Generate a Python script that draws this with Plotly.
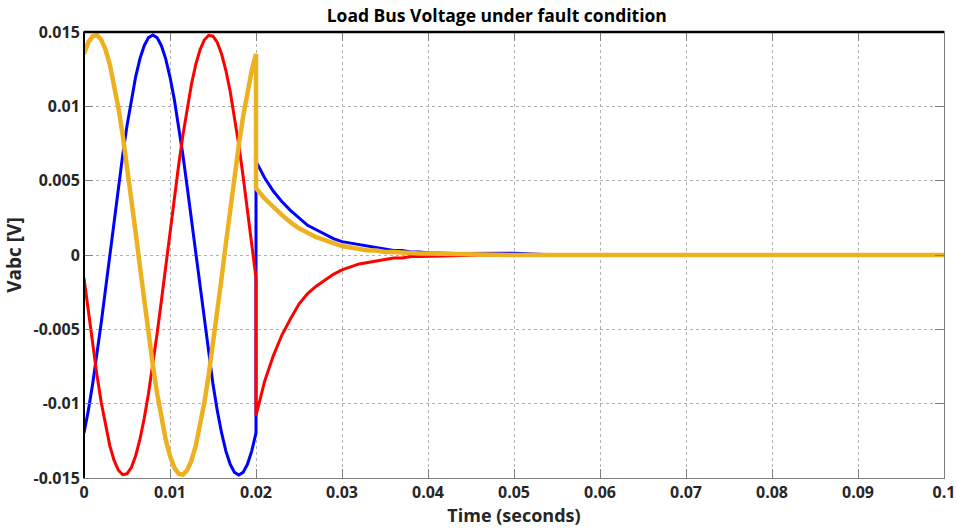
import plotly.graph_objects as go

# ---------------- data ----------------
# pre-fault sampling grid 0 .. 0.02 s (0.5 ms steps)
t_pre = [round(i * 0.0005, 4) for i in range(41)]
# post-fault sampling grid
t_post = [0.020, 0.021, 0.022, 0.023, 0.024, 0.025, 0.026, 0.027, 0.028, 0.029,
          0.030, 0.031, 0.032, 0.033, 0.034, 0.035, 0.036, 0.037, 0.038, 0.039,
          0.040, 0.043, 0.046, 0.050, 0.055, 0.100]

va_pre = [-0.01197, -0.01047, -0.00870, -0.00672, -0.00457, -0.00231, 0.0, 0.00231,
          0.00457, 0.00672, 0.00870, 0.01047, 0.01197, 0.01319, 0.01408, 0.01462,
          0.0148, 0.01462, 0.01408, 0.01319, 0.01197, 0.01047, 0.00870, 0.00672,
          0.00457, 0.00231, 0.0, -0.00231, -0.00457, -0.00672, -0.00870, -0.01047,
          -0.01197, -0.01319, -0.01408, -0.01462, -0.0148, -0.01462, -0.01408,
          -0.01319, -0.01197]
va_post = [0.0063, 0.0052, 0.0043, 0.0036, 0.0030, 0.0025, 0.0020, 0.0017, 0.0014,
           0.0011, 0.0009, 0.0008, 0.0007, 0.0006, 0.0005, 0.0004, 0.0003, 0.0003,
           0.0002, 0.0002, 0.00015, 0.0001, 0.0001, 0.00012, 0.0, 0.0]

vb_pre = [-0.00155, -0.00383, -0.00602, -0.00806, -0.00990, -0.01150, -0.01282,
          -0.01382, -0.01448, -0.01478, -0.01472, -0.01430, -0.01352, -0.01241,
          -0.01100, -0.00931, -0.00740, -0.00530, -0.00308, -0.00077, 0.00155,
          0.00383, 0.00602, 0.00806, 0.00990, 0.01150, 0.01282, 0.01382, 0.01448,
          0.01478, 0.01472, 0.01430, 0.01352, 0.01241, 0.01100, 0.00931, 0.00740,
          0.00530, 0.00308, 0.00077, -0.00155]
vb_post = [-0.0108, -0.0085, -0.0068, -0.0054, -0.0043, -0.0033, -0.0026, -0.0021,
           -0.0017, -0.0013, -0.0010, -0.0008, -0.0006, -0.0005, -0.0004, -0.0003,
           -0.0002, -0.0002, -0.0001, -0.0001, -0.0001, -0.00005, 0.0, 0.0, 0.0, 0.0]

vc_pre = [0.01352, 0.01430, 0.01472, 0.01478, 0.01448, 0.01382, 0.01282, 0.01150,
          0.00990, 0.00806, 0.00602, 0.00383, 0.00155, -0.00077, -0.00308, -0.00530,
          -0.00740, -0.00931, -0.01100, -0.01241, -0.01352, -0.01430, -0.01472,
          -0.01478, -0.01448, -0.01382, -0.01282, -0.01150, -0.00990, -0.00806,
          -0.00602, -0.00383, -0.00155, 0.00077, 0.00308, 0.00530, 0.00740, 0.00931,
          0.01100, 0.01241, 0.01352]
vc_post = [0.0045, 0.0038, 0.0032, 0.0027, 0.0022, 0.0018, 0.0015, 0.0012, 0.0010,
           0.0008, 0.0006, 0.0005, 0.0004, 0.0003, 0.0003, 0.0002, 0.0002, 0.00015,
           0.0001, 0.0001, 0.0001, 0.00005, 0.0, 0.0, 0.0, 0.0]

x_ticks = [0, 0.01, 0.02, 0.03, 0.04, 0.05, 0.06, 0.07, 0.08, 0.09, 0.1]
x_labels = ["0", "0.01", "0.02", "0.03", "0.04", "0.05", "0.06", "0.07", "0.08", "0.09", "0.1"]
y_ticks = [-0.015, -0.01, -0.005, 0, 0.005, 0.01, 0.015]
y_labels = ["-0.015", "-0.01", "-0.005", "0", "0.005", "0.01", "0.015"]

# ---------------- figure ----------------
FONT = "Open Sans"
TXT = "#262626"

fig = go.Figure()
series = [
    ("Va", va_pre, va_post, "#0000FF", 3),
    ("Vb", vb_pre, vb_post, "#FF0000", 3),
    ("Vc", vc_pre, vc_post, "#EDB120", 4.5),
]
for name, pre, post, color, w in series:
    fig.add_trace(go.Scatter(
        x=t_pre + t_post, y=pre + post, mode="lines", name=name,
        line=dict(color=color, width=w), showlegend=False,
    ))

axis_common = dict(
    ticks="inside", ticklen=9, tickcolor="#7f7f7f", tickwidth=1,
    showline=True, linecolor="#7f7f7f", linewidth=1, mirror="ticks",
    showgrid=True, gridcolor="#b0b0b0", griddash="dot", gridwidth=1,
    zeroline=False, automargin=False,
    tickfont=dict(family=FONT, size=16, color=TXT, weight="bold"),
)

fig.update_layout(
    width=957, height=531,
    margin=dict(l=84, r=13, t=32, b=53),
    paper_bgcolor="white", plot_bgcolor="white",
    title=dict(text="Load Bus Voltage under fault condition",
               font=dict(family=FONT, size=17.5, color="black", weight="bold"),
               x=0.48, xref="paper", xanchor="center",
               y=1 - 16 / 531, yref="container", yanchor="middle"),
    xaxis=dict(range=[0, 0.1], tickvals=x_ticks, ticktext=x_labels,
               title=dict(text="Time (seconds)", standoff=2,
                          font=dict(family=FONT, size=18, color=TXT, weight="bold")),
               **axis_common),
    yaxis=dict(range=[-0.015, 0.015], tickvals=y_ticks, ticktext=y_labels,
               title=dict(text="Vabc [V]", standoff=6,
                          font=dict(family=FONT, size=19, color=TXT, weight="bold")),
               **axis_common),
    shapes=[
        dict(type="line", xref="paper", yref="paper", x0=0, x1=1, y0=1, y1=1,
             line=dict(color="black", width=2.5), layer="above"),
        dict(type="line", xref="paper", yref="paper", x0=0, x1=0, y0=0, y1=1,
             line=dict(color="black", width=2), layer="above"),
    ],
)

fig.write_html("out.html")
